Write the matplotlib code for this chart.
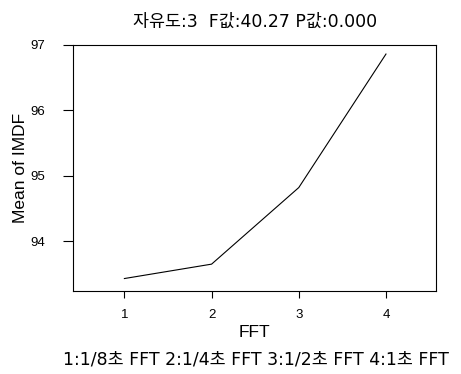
import matplotlib
matplotlib.use('Agg')
import matplotlib.pyplot as plt

plt.rcParams['font.family'] = ['Liberation Sans', 'Noto Sans CJK KR', 'DejaVu Sans']

# main effect means
fft_level = [1, 2, 3, 4]
imdf_mean = [93.43, 93.65, 94.82, 96.86]
yticks = [94, 95, 96, 97]

title = '자유도:3  F값:40.27 P값:0.000'
note = '1:1/8초 FFT 2:1/4초 FFT 3:1/2초 FFT 4:1초 FFT'
wide = ['DejaVu Sans', 'Noto Sans CJK KR']

fig = plt.figure(figsize=(4.61, 3.74), dpi=100)
ax = fig.add_axes([0.159, 0.222, 0.787, 0.658])

ax.plot(fft_level, imdf_mean, color='black', linewidth=0.8)

ax.set_xlim(0.414, 4.575)
ax.set_ylim(93.24, 97.0)
ax.set_xticks(fft_level)
ax.set_yticks(yticks)
ax.tick_params(axis='both', direction='out', width=0.8, labelsize=9.5)
ax.tick_params(axis='x', length=5, pad=8)
ax.tick_params(axis='y', length=7, pad=13)
for s in ax.spines.values():
    s.set_linewidth(0.8)

ax.set_xlabel('FFT', fontsize=12.5, labelpad=3)
ax.set_ylabel('Mean of IMDF', fontsize=12.5, labelpad=2)
ax.set_title(title, fontsize=12.5, pad=13, family=wide)
fig.text(0.555, 0.04, note, ha='center', va='center', fontsize=12.5, family=wide)

fig.savefig('out.png', dpi=100)
